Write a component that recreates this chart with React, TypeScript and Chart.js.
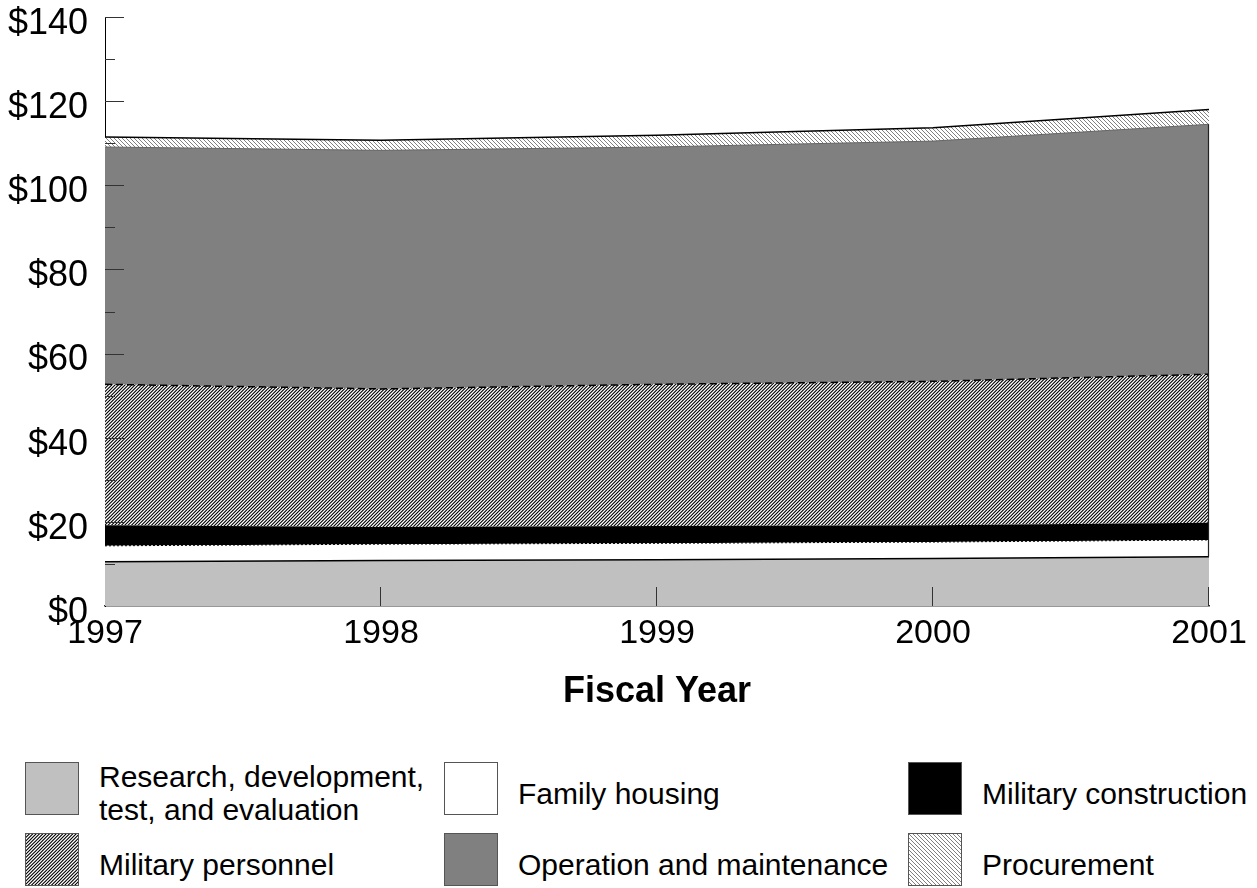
import React, { useEffect, useRef } from 'react';
import { Chart, registerables } from 'chart.js';

Chart.register(...registerables);

// ---- data (billions of dollars) ----
const years = ['1997', '1998', '1999', '2000', '2001'];
const rdte = [10.5, 10.8, 11.0, 11.3, 11.7];
const familyHousing = [3.8, 3.9, 3.9, 3.9, 4.0];
const militaryConstruction = [4.9, 4.1, 4.1, 4.0, 4.1];
const militaryPersonnel = [33.5, 32.8, 33.7, 34.2, 35.3];
const operationMaintenance = [56.4, 56.7, 56.4, 57.1, 59.4];
const procurement = [2.4, 2.4, 2.8, 3.2, 3.5];

const yMin = 0;
const yMax = 140;
const yMajorStep = 20;
const yMinorStep = 10;

const FONT = "'Liberation Sans', Arial, Helvetica, sans-serif";

type HatchDir = 'fwd' | 'back';

function makeHatch(dir: HatchDir, tile: number, lines: number, color: string, lw: number, bg: string): CanvasPattern | string {
  const c = document.createElement('canvas');
  c.width = tile;
  c.height = tile;
  const ctx = c.getContext('2d');
  if (!ctx) return bg;
  ctx.fillStyle = bg;
  ctx.fillRect(0, 0, tile, tile);
  ctx.strokeStyle = color;
  ctx.lineWidth = lw;
  ctx.beginPath();
  const p = tile / lines;
  for (let k = -3 * lines; k <= 4 * lines; k++) {
    const c0 = k * p;
    if (dir === 'fwd') {
      // x + y = c0  ("/")
      ctx.moveTo(c0 + 2 * tile, -2 * tile);
      ctx.lineTo(c0 - 2 * tile, 2 * tile);
    } else {
      // y - x = c0  ("\")
      ctx.moveTo(-2 * tile, c0 - 2 * tile);
      ctx.lineTo(3 * tile, c0 + 3 * tile);
    }
  }
  ctx.stroke();
  const pat = ctx.createPattern(c, 'repeat');
  return pat || bg;
}

const fills = {
  rdte: () => '#c0c0c0' as string | CanvasPattern,
  familyHousing: () => '#ffffff' as string | CanvasPattern,
  militaryConstruction: () => '#000000' as string | CanvasPattern,
  militaryPersonnel: () => makeHatch('fwd', 10, 3, '#000000', 1.1, '#ffffff'),
  operationMaintenance: () => '#808080' as string | CanvasPattern,
  procurement: () => makeHatch('back', 8, 2, '#808080', 1.0, '#ffffff'),
};

const innerTicks = {
  id: 'innerTicks',
  afterDatasetsDraw(chart: any) {
    const { ctx, scales } = chart;
    const x = scales.x;
    const y = scales.y;
    ctx.save();
    // right-edge outline of stacked bands
    const last = years.length - 1;
    const m0 = chart.getDatasetMeta(0);
    const m4 = chart.getDatasetMeta(4);
    if (m0.data[last] && m4.data[last]) {
      const px = Math.round(m0.data[last].x) - 0.5;
      ctx.strokeStyle = '#222';
      ctx.lineWidth = 1.2;
      ctx.beginPath();
      ctx.moveTo(px, m4.data[last].y);
      ctx.lineTo(px, m0.data[last].y);
      ctx.stroke();
    }
    ctx.strokeStyle = '#333';
    ctx.lineWidth = 1;
    ctx.beginPath();
    for (let v = yMin + yMinorStep; v <= yMax; v += yMinorStep) {
      const py = Math.round(y.getPixelForValue(v)) + 0.5;
      const len = v % yMajorStep === 0 ? 19 : 10;
      ctx.moveTo(x.left, py);
      ctx.lineTo(x.left + len, py);
    }
    for (let i = 1; i < years.length; i++) {
      const px = Math.round(x.getPixelForValue(i)) - 0.5;
      ctx.moveTo(px, y.bottom);
      ctx.lineTo(px, y.bottom - 19);
    }
    ctx.stroke();
    ctx.restore();
  },
};

function ChartCanvas() {
  const ref = useRef<HTMLCanvasElement | null>(null);
  useEffect(() => {
    if (!ref.current) return;
    const base = {
      pointRadius: 0,
      pointHoverRadius: 0,
      tension: 0,
    };
    const chart = new Chart(ref.current, {
      type: 'line',
      data: {
        labels: years,
        datasets: [
          {
            ...base,
            label: 'Research, development, test, and evaluation',
            data: rdte,
            backgroundColor: fills.rdte(),
            borderColor: '#000',
            borderWidth: 1.5,
            fill: 'origin',
          },
          {
            ...base,
            label: 'Family housing',
            data: familyHousing,
            backgroundColor: fills.familyHousing(),
            borderColor: '#000',
            borderWidth: 1,
            borderDash: [2, 2],
            fill: '-1',
          },
          {
            ...base,
            label: 'Military construction',
            data: militaryConstruction,
            backgroundColor: fills.militaryConstruction(),
            borderColor: '#000',
            borderWidth: 0,
            fill: '-1',
          },
          {
            ...base,
            label: 'Military personnel',
            data: militaryPersonnel,
            backgroundColor: fills.militaryPersonnel(),
            borderColor: '#000',
            borderWidth: 1.5,
            borderDash: [7, 4],
            fill: '-1',
          },
          {
            ...base,
            label: 'Operation and maintenance',
            data: operationMaintenance,
            backgroundColor: fills.operationMaintenance(),
            borderColor: '#666',
            borderWidth: 1,
            fill: '-1',
          },
          {
            ...base,
            label: 'Procurement',
            data: procurement,
            backgroundColor: fills.procurement(),
            borderColor: '#000',
            borderWidth: 1.5,
            fill: '-1',
          },
        ],
      },
      options: {
        responsive: false,
        animation: false,
        events: [],
        layout: { padding: { top: 17, right: 48, bottom: 0, left: 0 } },
        plugins: {
          legend: { display: false },
          tooltip: { enabled: false },
          title: { display: false },
        },
        scales: {
          x: {
            type: 'category',
            offset: false,
            z: 1,
            grid: { display: false, drawTicks: false },
            border: { display: true, color: '#333', width: 1.5 },
            ticks: {
              color: '#000',
              padding: 10,
              maxRotation: 0,
              autoSkip: false,
              font: { family: FONT, size: 34, lineHeight: 1.06 },
            },
            title: {
              display: true,
              text: 'Fiscal Year',
              color: '#000',
              padding: { top: 0, bottom: 10 },
              font: { family: FONT, size: 36, weight: 'bold', lineHeight: 1 },
            },
            afterFit: (s: any) => {
              s.height = 114;
            },
          },
          y: {
            type: 'linear',
            stacked: true,
            min: yMin,
            max: yMax,
            z: 1,
            grid: { display: false, drawTicks: true, tickLength: 17 },
            border: { display: true, color: '#000', width: 1 },
            ticks: {
              stepSize: yMajorStep,
              color: '#000',
              padding: 0,
              labelOffset: 7,
              font: { family: FONT, size: 36, lineHeight: 0.94 },
              callback: (v: any) => '$' + v,
            },
            afterFit: (s: any) => {
              s.width = 105;
            },
          },
        },
      },
      plugins: [innerTicks],
    });
    return () => chart.destroy();
  }, []);
  return <canvas ref={ref} width={1257} height={720} style={{ position: 'absolute', left: 0, top: 0, width: 1257, height: 720 }} />;
}

type SwatchProps = { fill: () => string | CanvasPattern; w: number; h: number };

function Swatch({ fill, w, h }: SwatchProps) {
  const ref = useRef<HTMLCanvasElement | null>(null);
  useEffect(() => {
    const c = ref.current;
    if (!c) return;
    const ctx = c.getContext('2d');
    if (!ctx) return;
    ctx.fillStyle = fill() as any;
    ctx.fillRect(0, 0, w, h);
  }, [fill, w, h]);
  return (
    <canvas
      ref={ref}
      width={w}
      height={h}
      style={{ display: 'block', width: w, height: h, border: '1px solid #555', boxSizing: 'content-box' }}
    />
  );
}

type LegendItem = { lines: string[]; fill: () => string | CanvasPattern; left: number; top: number };

const legendItems: LegendItem[] = [
  { lines: ['Research, development,', 'test, and evaluation'], fill: fills.rdte, left: 25, top: 761 },
  { lines: ['Family housing'], fill: fills.familyHousing, left: 444, top: 761 },
  { lines: ['Military construction'], fill: fills.militaryConstruction, left: 908, top: 761 },
  { lines: ['Military personnel'], fill: fills.militaryPersonnel, left: 25, top: 832 },
  { lines: ['Operation and maintenance'], fill: fills.operationMaintenance, left: 444, top: 832 },
  { lines: ['Procurement'], fill: fills.procurement, left: 908, top: 832 },
];

export default function App() {
  return (
    <div
      style={{
        position: 'absolute',
        left: 0,
        top: 0,
        width: 1257,
        height: 888,
        background: '#fff',
        overflow: 'hidden',
        fontFamily: FONT,
      }}
    >
      <ChartCanvas />
      {legendItems.map((it, i) => (
        <div
          key={i}
          style={{
            position: 'absolute',
            left: it.left,
            top: it.top,
            height: 54,
            display: 'flex',
            alignItems: 'center',
          }}
        >
          <Swatch fill={it.fill} w={52} h={51} />
          <div
            style={{
              marginLeft: 20,
              fontSize: 30,
              lineHeight: '33px',
              color: '#000',
              whiteSpace: 'nowrap',
              position: 'relative',
              top: 5,
            }}
          >
            {it.lines.map((l, j) => (
              <div key={j}>{l}</div>
            ))}
          </div>
        </div>
      ))}
    </div>
  );
}
